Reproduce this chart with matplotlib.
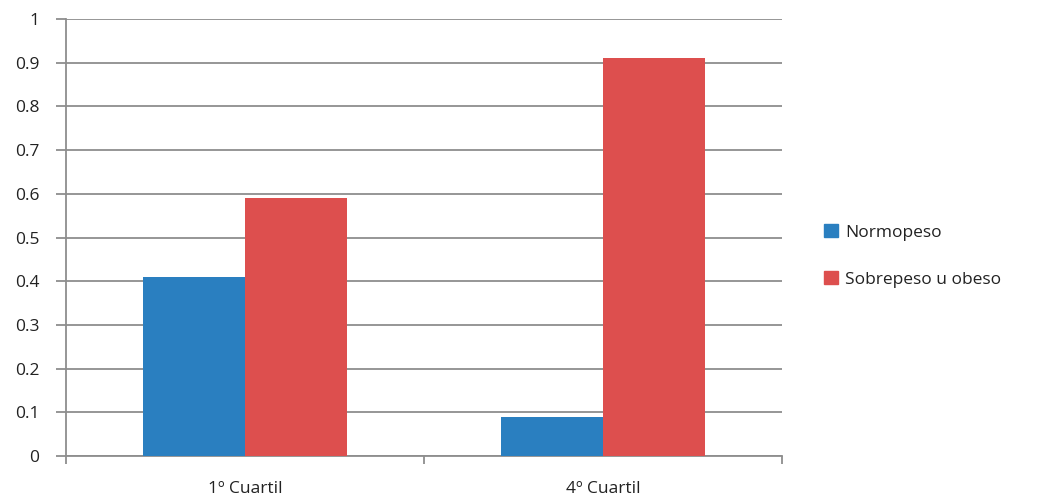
import numpy as np
import matplotlib.pyplot as plt
from matplotlib.patches import Patch

#%% Data
categories = ["1º Cuartil", "4º Cuartil"]
normopeso = [0.41, 0.09]
sobrepeso = [0.59, 0.91]
series_names = ["Normopeso", "Sobrepeso u obeso"]
yticks = [0, 0.1, 0.2, 0.3, 0.4, 0.5, 0.6, 0.7, 0.8, 0.9, 1]
ytick_labels = ["0", "0.1", "0.2", "0.3", "0.4", "0.5", "0.6", "0.7", "0.8", "0.9", "1"]

#%% Style
blue, red = "#2A7FC0", "#DD4F4E"
grid_c = "#8E8E8E"
plt.rcParams['font.family'] = ['Open Sans', 'DejaVu Sans']

fig = plt.figure(figsize=(10.42, 5.0), dpi=100)
ax = fig.add_axes([0.0633, 0.088, 0.6872, 0.874])

x = np.arange(len(categories))
w = 1 / 3.5  # gap width 150%
ax.bar(x - w / 2, normopeso, w, color=blue, zorder=3)
ax.bar(x + w / 2, sobrepeso, w, color=red, zorder=3)

ax.set_xlim(-0.5, 1.5)
ax.set_ylim(0, 1)
ax.set_yticks(yticks)
ax.set_yticklabels(ytick_labels)
ax.yaxis.grid(True, color=grid_c, linewidth=1.3, zorder=0)

# category ticks sit at the group boundaries
ax.set_xticks([-0.5, 0.5, 1.5])
ax.set_xticklabels([])
ax.set_xticks(x, minor=True)
ax.set_xticklabels(categories, minor=True)
ax.tick_params(axis='x', which='minor', length=0, pad=18)
ax.tick_params(axis='x', which='major', length=6, color=grid_c, width=1.3)
ax.tick_params(axis='y', length=7, color=grid_c, width=1.3, pad=12)
ax.tick_params(axis='both', which='both', labelsize=12.5, labelcolor="#222222")

for s in ['top', 'right']:
    ax.spines[s].set_visible(False)
for s in ['left', 'bottom']:
    ax.spines[s].set_color(grid_c)
    ax.spines[s].set_linewidth(1.3)

handles = [Patch(color=blue), Patch(color=red)]
fig.legend(handles, series_names, loc='center left', bbox_to_anchor=(0.776, 0.488),
           frameon=False, fontsize=12.5, handlelength=0.8, handleheight=0.8,
           handletextpad=0.4, labelspacing=1.75, labelcolor="#222222")

fig.savefig("out.png", dpi=100)
